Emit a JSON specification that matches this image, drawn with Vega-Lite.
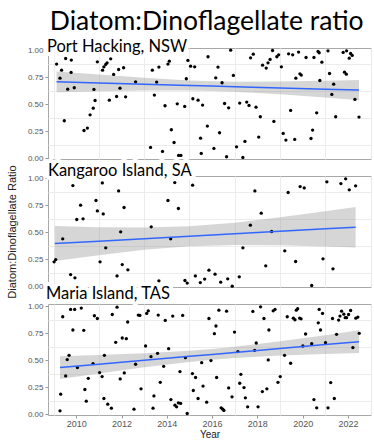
{
"$schema": "https://vega.github.io/schema/vega-lite/v6.json",
"background": "white",
"padding": {"left": 5, "top": 9, "right": 2, "bottom": 0},
"title": {"text": "Diatom:Dinoflagellate ratio", "font": "Lato", "fontSize": 26.5, "fontWeight": "normal", "color": "black", "anchor": "middle", "dx": 18, "offset": 3},
"spacing": 17,
"bounds": "flush",
"datasets": {
"ph": [
{"year":2009.13,"ratio":0.871},{"year":2009.35,"ratio":0.815},{"year":2009.53,"ratio":0.923},{"year":2009.78,"ratio":0.908},{"year":2009.28,"ratio":0.741},{"year":2009.77,"ratio":0.794},{"year":2009.62,"ratio":0.639},{"year":2009.91,"ratio":0.652},{"year":2009.47,"ratio":0.346},{"year":2010.34,"ratio":0.256},{"year":2010.49,"ratio":0.278},{"year":2010.61,"ratio":0.401},{"year":2010.75,"ratio":0.463},{"year":2010.83,"ratio":0.534},{"year":2010.78,"ratio":0.636},{"year":2010.93,"ratio":0.892},{"year":2011.16,"ratio":0.815},{"year":2011.22,"ratio":0.846},{"year":2011.30,"ratio":0.868},{"year":2011.36,"ratio":0.883},{"year":2011.52,"ratio":0.920},{"year":2011.65,"ratio":0.775},{"year":2011.87,"ratio":0.821},{"year":2012.09,"ratio":0.837},{"year":2011.93,"ratio":0.648},{"year":2011.78,"ratio":0.571},{"year":2011.46,"ratio":0.537},{"year":2012.18,"ratio":0.568},{"year":2012.62,"ratio":0.707},{"year":2013.36,"ratio":0.815},{"year":2013.65,"ratio":0.843},{"year":2013.55,"ratio":0.704},{"year":2013.45,"ratio":0.584},{"year":2013.28,"ratio":0.099},{"year":2013.81,"ratio":0.062},{"year":2013.92,"ratio":0.485},{"year":2014.05,"ratio":0.871},{"year":2014.11,"ratio":0.898},{"year":2014.20,"ratio":0.263},{"year":2014.32,"ratio":0.145},{"year":2014.46,"ratio":0.503},{"year":2014.52,"ratio":0.025},{"year":2014.62,"ratio":0.025},{"year":2014.79,"ratio":0.479},{"year":2014.86,"ratio":0.735},{"year":2014.93,"ratio":0.905},{"year":2015.05,"ratio":0.852},{"year":2015.23,"ratio":0.846},{"year":2015.15,"ratio":0.550},{"year":2015.38,"ratio":0.537},{"year":2015.58,"ratio":0.491},{"year":2015.49,"ratio":0.185},{"year":2015.52,"ratio":0.044},{"year":2015.79,"ratio":0.297},{"year":2015.82,"ratio":0.939},
{"year":2016.26,"ratio":0.843},{"year":2016.16,"ratio":0.744},{"year":2016.44,"ratio":0.698},{"year":2016.82,"ratio":1.0},{"year":2016.94,"ratio":0.766},{"year":2016.55,"ratio":0.506},{"year":2016.73,"ratio":0.466},{"year":2016.33,"ratio":0.235},{"year":2016.08,"ratio":0.090},{"year":2016.64,"ratio":0.013},{"year":2017.08,"ratio":0.105},{"year":2017.36,"ratio":0.006},{"year":2017.45,"ratio":0.155},{"year":2017.22,"ratio":0.510},{"year":2017.53,"ratio":0.519},{"year":2017.63,"ratio":0.488},{"year":2017.94,"ratio":0.472},{"year":2018.13,"ratio":0.383},{"year":2018.06,"ratio":0.195},{"year":2017.70,"ratio":0.929},{"year":2017.82,"ratio":0.963},{"year":2018.23,"ratio":0.861},{"year":2018.39,"ratio":0.834},{"year":2018.47,"ratio":0.883},{"year":2018.56,"ratio":0.914},{"year":2018.67,"ratio":0.997},{"year":2018.86,"ratio":0.939},{"year":2018.94,"ratio":0.957},{"year":2019.06,"ratio":0.846},{"year":2018.73,"ratio":0.340},{"year":2019.14,"ratio":0.229},{"year":2019.26,"ratio":0.167},{"year":2019.65,"ratio":0.173},{"year":2019.47,"ratio":0.442},{"year":2019.38,"ratio":0.966},{"year":2019.56,"ratio":0.957},{"year":2019.82,"ratio":0.982},{"year":2019.70,"ratio":0.741},{"year":2019.88,"ratio":0.781},{"year":2019.94,"ratio":0.769},{"year":2020.15,"ratio":0.932},{"year":2020.50,"ratio":0.932},{"year":2020.68,"ratio":0.988},{"year":2020.73,"ratio":0.976},{"year":2020.85,"ratio":0.889},{"year":2021.12,"ratio":0.994},{"year":2020.76,"ratio":0.719},{"year":2020.62,"ratio":0.420},{"year":2020.44,"ratio":0.260},{"year":2020.37,"ratio":0.182},{"year":2021.19,"ratio":0.784},{"year":2021.37,"ratio":0.685},{"year":2021.29,"ratio":0.590},{"year":2021.46,"ratio":0.383},{"year":2021.79,"ratio":0.979},{"year":2021.94,"ratio":0.994},{"year":2022.06,"ratio":0.926},{"year":2022.12,"ratio":0.969},{"year":2022.19,"ratio":0.951},{"year":2021.85,"ratio":0.796},{"year":2021.93,"ratio":0.778},{"year":2022.31,"ratio":0.544},{"year":2022.49,"ratio":0.380}
],
"ki": [
{"year":2009.02,"ratio":0.225},{"year":2009.09,"ratio":0.246},{"year":2009.40,"ratio":0.438},{"year":2009.85,"ratio":0.931},{"year":2009.75,"ratio":0.107},{"year":2009.94,"ratio":0.077},{"year":2010.02,"ratio":0.617},{"year":2010.19,"ratio":0.750},{"year":2010.30,"ratio":0.623},{"year":2010.87,"ratio":0.793},{"year":2010.93,"ratio":0.697},{"year":2011.05,"ratio":0.225},{"year":2011.15,"ratio":0.956},{"year":2011.19,"ratio":0.669},{"year":2011.30,"ratio":0.355},{"year":2011.87,"ratio":0.882},{"year":2011.80,"ratio":0.095},{"year":2011.96,"ratio":0.503},{"year":2012.03,"ratio":0.200},{"year":2012.11,"ratio":0.728},{"year":2012.28,"ratio":0.151},{"year":2013.31,"ratio":0.549},{"year":2013.65,"ratio":0.049},{"year":2014.05,"ratio":0.793},{"year":2014.17,"ratio":0.438},{"year":2014.35,"ratio":0.959},{"year":2014.51,"ratio":0.719},{"year":2014.80,"ratio":0.052},{"year":2014.90,"ratio":0.028},{"year":2015.14,"ratio":0.935},{"year":2015.26,"ratio":0.095},{"year":2015.48,"ratio":0.033},{"year":2015.67,"ratio":0.065},{"year":2015.86,"ratio":0.148},{"year":2016.13,"ratio":0.111},{"year":2016.38,"ratio":0.037},{"year":2016.69,"ratio":0.068},{"year":2016.89,"ratio":0.0},{"year":2017.20,"ratio":0.086},{"year":2017.36,"ratio":0.355},{"year":2017.69,"ratio":0.565},{"year":2017.89,"ratio":0.882},{"year":2018.17,"ratio":0.676},{"year":2018.37,"ratio":0.188},{"year":2018.63,"ratio":0.506},{"year":2019.21,"ratio":0.327},{"year":2019.36,"ratio":0.867},{"year":2019.69,"ratio":0.228},{"year":2019.89,"ratio":0.922},{"year":2020.07,"ratio":0.910},{"year":2020.40,"ratio":0.006},{"year":2020.90,"ratio":0.253},{"year":2021.07,"ratio":0.966},{"year":2021.34,"ratio":0.160},{"year":2021.69,"ratio":0.950},{"year":2021.90,"ratio":0.994},{"year":2022.06,"ratio":0.892},{"year":2022.34,"ratio":0.929}
],
"mi": [
{"year":2009.28,"ratio":0.031},{"year":2009.31,"ratio":0.185},{"year":2009.40,"ratio":0.902},{"year":2009.53,"ratio":0.354},{"year":2009.60,"ratio":0.505},{"year":2009.68,"ratio":0.545},{"year":2009.75,"ratio":0.970},{"year":2009.93,"ratio":0.970},{"year":2009.85,"ratio":0.779},{"year":2010.05,"ratio":0.431},{"year":2010.22,"ratio":0.982},{"year":2010.33,"ratio":0.776},{"year":2010.38,"ratio":0.228},{"year":2010.44,"ratio":0.120},{"year":2010.53,"ratio":0.332},{"year":2010.74,"ratio":0.468},{"year":2010.80,"ratio":0.911},{"year":2010.93,"ratio":0.886},{"year":2011.03,"ratio":0.385},{"year":2011.14,"ratio":0.348},{"year":2011.22,"ratio":0.145},{"year":2011.24,"ratio":0.545},{"year":2011.39,"ratio":0.092},{"year":2011.55,"ratio":0.055},{"year":2011.59,"ratio":0.923},{"year":2011.74,"ratio":0.665},{"year":2011.80,"ratio":0.991},{"year":2011.94,"ratio":0.326},{"year":2012.03,"ratio":0.705},{"year":2012.12,"ratio":0.382},{"year":2012.21,"ratio":0.699},{"year":2012.27,"ratio":0.853},{"year":2012.55,"ratio":0.046},{"year":2012.62,"ratio":0.462},{"year":2012.74,"ratio":0.917},{"year":2012.81,"ratio":0.914},{"year":2012.86,"ratio":0.234},{"year":2013.06,"ratio":0.631},{"year":2013.11,"ratio":0.933},{"year":2013.18,"ratio":0.957},{"year":2013.30,"ratio":0.532},{"year":2013.43,"ratio":0.169},{"year":2013.39,"ratio":0.055},{"year":2013.59,"ratio":0.563},{"year":2013.62,"ratio":0.917},{"year":2013.71,"ratio":0.295},{"year":2013.86,"ratio":0.443},{"year":2013.93,"ratio":0.868},{"year":2014.08,"ratio":0.606},{"year":2014.18,"ratio":0.135},{"year":2014.26,"ratio":0.908},{"year":2014.36,"ratio":0.083},{"year":2014.43,"ratio":0.068},{"year":2014.51,"ratio":0.105},{"year":2014.61,"ratio":0.099},{"year":2014.58,"ratio":0.394},{"year":2014.70,"ratio":0.914},{"year":2014.82,"ratio":0.523},{"year":2014.90,"ratio":0.006},
{"year":2015.13,"ratio":0.376},{"year":2015.27,"ratio":0.339},{"year":2015.17,"ratio":0.219},{"year":2015.38,"ratio":0.145},{"year":2015.54,"ratio":0.477},{"year":2015.60,"ratio":0.260},
{"year":2015.86,"ratio":0.886},{"year":2015.76,"ratio":0.111},{"year":2015.95,"ratio":0.496},{"year":2016.10,"ratio":0.745},{"year":2016.17,"ratio":0.816},{"year":2016.30,"ratio":0.963},{"year":2016.64,"ratio":0.954},{"year":2016.20,"ratio":0.339},{"year":2016.73,"ratio":0.243},{"year":2016.88,"ratio":0.160},{"year":2016.40,"ratio":0.058},{"year":2016.47,"ratio":0.046},{"year":2016.52,"ratio":0.034},{"year":2016.99,"ratio":0.760},{"year":2017.14,"ratio":0.579},{"year":2017.22,"ratio":0.286},{"year":2017.27,"ratio":0.369},{"year":2017.41,"ratio":0.246},{"year":2017.47,"ratio":0.151},{"year":2017.57,"ratio":0.068},{"year":2017.80,"ratio":0.951},{"year":2017.88,"ratio":0.591},{"year":2017.95,"ratio":0.659},{"year":2018.03,"ratio":0.068},{"year":2018.14,"ratio":0.994},{"year":2018.29,"ratio":0.886},{"year":2018.22,"ratio":0.209},{"year":2018.42,"ratio":0.234},{"year":2018.48,"ratio":0.502},{"year":2018.51,"ratio":0.779},{"year":2018.70,"ratio":0.957},{"year":2018.78,"ratio":0.970},{"year":2018.91,"ratio":0.295},{"year":2019.01,"ratio":0.348},{"year":2019.20,"ratio":0.545},{"year":2019.32,"ratio":0.902},{"year":2019.47,"ratio":0.471},{"year":2019.59,"ratio":0.889},{"year":2019.66,"ratio":0.874},{"year":2019.72,"ratio":0.963},{"year":2019.78,"ratio":0.976},{"year":2019.87,"ratio":0.889},{"year":2019.93,"ratio":0.883},{"year":2020.01,"ratio":0.631},{"year":2020.13,"ratio":0.742},{"year":2020.40,"ratio":0.652},{"year":2020.50,"ratio":0.135},{"year":2020.62,"ratio":0.058},{"year":2020.69,"ratio":0.846},{"year":2020.73,"ratio":0.970},{"year":2020.79,"ratio":0.779},{"year":2020.88,"ratio":0.933},{"year":2021.01,"ratio":0.662},{"year":2021.12,"ratio":0.058},{"year":2021.24,"ratio":0.292},{"year":2021.32,"ratio":0.886},{"year":2021.40,"ratio":0.145},{"year":2021.50,"ratio":0.739},{"year":2021.59,"ratio":0.871},{"year":2021.65,"ratio":0.908},{"year":2021.72,"ratio":0.954},{"year":2021.82,"ratio":0.926},{"year":2021.88,"ratio":0.893},{"year":2021.94,"ratio":0.893},{"year":2022.03,"ratio":0.923},{"year":2022.12,"ratio":0.960},{"year":2022.22,"ratio":0.616},{"year":2022.35,"ratio":0.889},{"year":2022.44,"ratio":0.899},{"year":2022.50,"ratio":0.748}
],
"phfit": [
{"year":2009.13,"fit":0.707,"lo":0.611,"hi":0.803},{"year":2011,"fit":0.696,"lo":0.619,"hi":0.774},{"year":2013,"fit":0.685,"lo":0.626,"hi":0.744},{"year":2015,"fit":0.673,"lo":0.626,"hi":0.720},{"year":2016,"fit":0.667,"lo":0.622,"hi":0.712},{"year":2017,"fit":0.661,"lo":0.614,"hi":0.708},{"year":2019,"fit":0.650,"lo":0.591,"hi":0.709},{"year":2021,"fit":0.638,"lo":0.561,"hi":0.716},{"year":2022.49,"fit":0.630,"lo":0.537,"hi":0.723}
],
"kifit": [
{"year":2009.05,"fit":0.394,"lo":0.232,"hi":0.556},{"year":2011,"fit":0.416,"lo":0.287,"hi":0.545},{"year":2013,"fit":0.439,"lo":0.336,"hi":0.542},{"year":2015,"fit":0.462,"lo":0.369,"hi":0.555},{"year":2017,"fit":0.485,"lo":0.382,"hi":0.588},{"year":2019,"fit":0.508,"lo":0.379,"hi":0.637},{"year":2021,"fit":0.531,"lo":0.368,"hi":0.694},{"year":2022.34,"fit":0.546,"lo":0.358,"hi":0.734}
],
"mifit": [
{"year":2009.28,"fit":0.431,"lo":0.326,"hi":0.536},{"year":2011,"fit":0.462,"lo":0.377,"hi":0.547},{"year":2013,"fit":0.499,"lo":0.435,"hi":0.563},{"year":2015,"fit":0.535,"lo":0.483,"hi":0.587},{"year":2016,"fit":0.553,"lo":0.503,"hi":0.603},{"year":2017,"fit":0.571,"lo":0.519,"hi":0.623},{"year":2019,"fit":0.608,"lo":0.542,"hi":0.674},{"year":2021,"fit":0.644,"lo":0.557,"hi":0.731},{"year":2022.49,"fit":0.671,"lo":0.566,"hi":0.776}
]
},
"vconcat": [
{
"width": 323, "height": 111,
"resolve": {"axis": {"x": "independent", "y": "independent"}},
"layer": [
{"data": {"name": "phfit"}, "mark": {"type": "area", "color": "#999999", "opacity": 0.4},
 "encoding": {
  "x": {"field": "year", "type": "quantitative", "scale": {"domain": [2008.75, 2023.02], "nice": false, "zero": false},
   "axis": {"orient": "top", "values": [2009,2011,2013,2015,2017,2019,2021,2023], "labels": false, "ticks": false, "domain": false, "title": null, "gridColor": "#ececec"}},
  "y": {"field": "lo", "type": "quantitative", "scale": {"domain": [-0.008, 1.02], "nice": false, "zero": false},
   "axis": {"orient": "right", "values": [0.125,0.375,0.625,0.875], "labels": false, "ticks": false, "domain": false, "title": null, "gridColor": "#ececec"}},
  "y2": {"field": "hi"}}},
{"data": {"name": "ph"}, "mark": {"type": "circle", "size": 11, "color": "black", "opacity": 1},
 "encoding": {
  "x": {"field": "year", "type": "quantitative", "axis": {"orient": "bottom", "values": [2010,2012,2014,2016,2018,2020,2022], "labels": false, "ticks": false, "title": null, "gridColor": "#dedede"}},
  "y": {"field": "ratio", "type": "quantitative", "axis": {"orient": "left", "values": [0,0.25,0.5,0.75,1], "format": ".2f", "title": null, "tickSize": 3, "labelPadding": 2, "labelFontSize": 8, "labelOverlap": false, "gridColor": "#dedede"}}
 }},
{"data": {"name": "phfit"}, "mark": {"type": "line", "color": "#3366FF", "strokeWidth": 1.5},
 "encoding": {"x": {"field": "year", "type": "quantitative", "axis": null}, "y": {"field": "fit", "type": "quantitative", "axis": null}}},
{"data": {"values": [{"label": "Port Hacking, NSW"}]}, "mark": {"type": "text", "align": "left", "baseline": "alphabetic", "font": "Lato", "fontSize": 16.5, "fill": "white", "stroke": "white", "strokeWidth": 8, "strokeJoin": "round", "dx": -1, "dy": 4},
 "encoding": {"x": {"datum": 2008.75, "type": "quantitative", "axis": null}, "y": {"datum": 1.02, "type": "quantitative", "axis": null}, "text": {"field": "label"}}},
{"data": {"values": [{"label": "Port Hacking, NSW"}]}, "mark": {"type": "text", "align": "left", "baseline": "alphabetic", "font": "Lato", "fontSize": 16.5, "color": "black", "dx": -1, "dy": 4},
 "encoding": {"x": {"datum": 2008.75, "type": "quantitative", "axis": null}, "y": {"datum": 1.02, "type": "quantitative", "axis": null}, "text": {"field": "label"}}}
]
},
{
"width": 323, "height": 111,
"resolve": {"axis": {"x": "independent", "y": "independent"}},
"layer": [
{"data": {"name": "kifit"}, "mark": {"type": "area", "color": "#999999", "opacity": 0.4},
 "encoding": {
  "x": {"field": "year", "type": "quantitative", "scale": {"domain": [2008.75, 2023.02], "nice": false, "zero": false},
   "axis": {"orient": "top", "values": [2009,2011,2013,2015,2017,2019,2021,2023], "labels": false, "ticks": false, "domain": false, "title": null, "gridColor": "#ececec"}},
  "y": {"field": "lo", "type": "quantitative", "scale": {"domain": [-0.008, 1.02], "nice": false, "zero": false},
   "axis": {"orient": "right", "values": [0.125,0.375,0.625,0.875], "labels": false, "ticks": false, "domain": false, "title": null, "gridColor": "#ececec"}},
  "y2": {"field": "hi"}}},
{"data": {"name": "ki"}, "mark": {"type": "circle", "size": 11, "color": "black", "opacity": 1},
 "encoding": {
  "x": {"field": "year", "type": "quantitative", "axis": {"orient": "bottom", "values": [2010,2012,2014,2016,2018,2020,2022], "labels": false, "ticks": false, "title": null, "gridColor": "#dedede"}},
  "y": {"field": "ratio", "type": "quantitative", "axis": {"orient": "left", "values": [0,0.25,0.5,0.75,1], "format": ".2f", "title": "Diatom:Dinoflagellate Ratio", "titleFontSize": 11, "titlePadding": 10, "tickSize": 3, "labelPadding": 2, "labelFontSize": 8, "labelOverlap": false, "gridColor": "#dedede"}}
 }},
{"data": {"name": "kifit"}, "mark": {"type": "line", "color": "#3366FF", "strokeWidth": 1.5},
 "encoding": {"x": {"field": "year", "type": "quantitative", "axis": null}, "y": {"field": "fit", "type": "quantitative", "axis": null}}},
{"data": {"values": [{"label": "Kangaroo Island, SA"}]}, "mark": {"type": "text", "align": "left", "baseline": "alphabetic", "font": "Lato", "fontSize": 16.5, "fill": "white", "stroke": "white", "strokeWidth": 8, "strokeJoin": "round", "dx": 0, "dy": 0},
 "encoding": {"x": {"datum": 2008.75, "type": "quantitative", "axis": null}, "y": {"datum": 1.02, "type": "quantitative", "axis": null}, "text": {"field": "label"}}},
{"data": {"values": [{"label": "Kangaroo Island, SA"}]}, "mark": {"type": "text", "align": "left", "baseline": "alphabetic", "font": "Lato", "fontSize": 16.5, "color": "black", "dx": 0, "dy": 0},
 "encoding": {"x": {"datum": 2008.75, "type": "quantitative", "axis": null}, "y": {"datum": 1.02, "type": "quantitative", "axis": null}, "text": {"field": "label"}}}
]
},
{
"width": 323, "height": 111,
"resolve": {"axis": {"x": "independent", "y": "independent"}},
"layer": [
{"data": {"name": "mifit"}, "mark": {"type": "area", "color": "#999999", "opacity": 0.4},
 "encoding": {
  "x": {"field": "year", "type": "quantitative", "scale": {"domain": [2008.75, 2023.02], "nice": false, "zero": false},
   "axis": {"orient": "top", "values": [2009,2011,2013,2015,2017,2019,2021,2023], "labels": false, "ticks": false, "domain": false, "title": null, "gridColor": "#ececec"}},
  "y": {"field": "lo", "type": "quantitative", "scale": {"domain": [-0.008, 1.02], "nice": false, "zero": false},
   "axis": {"orient": "right", "values": [0.125,0.375,0.625,0.875], "labels": false, "ticks": false, "domain": false, "title": null, "gridColor": "#ececec"}},
  "y2": {"field": "hi"}}},
{"data": {"name": "mi"}, "mark": {"type": "circle", "size": 11, "color": "black", "opacity": 1},
 "encoding": {
  "x": {"field": "year", "type": "quantitative", "axis": {"orient": "bottom", "values": [2010,2012,2014,2016,2018,2020,2022], "format": "d", "title": "Year", "titleFontSize": 10, "titlePadding": 1, "labelFontSize": 9, "labelPadding": 1, "tickSize": 3, "labelOverlap": false, "gridColor": "#dedede"}},
  "y": {"field": "ratio", "type": "quantitative", "axis": {"orient": "left", "values": [0,0.25,0.5,0.75,1], "format": ".2f", "title": null, "tickSize": 3, "labelPadding": 2, "labelFontSize": 8, "labelOverlap": false, "gridColor": "#dedede"}}
 }},
{"data": {"name": "mifit"}, "mark": {"type": "line", "color": "#3366FF", "strokeWidth": 1.5},
 "encoding": {"x": {"field": "year", "type": "quantitative", "axis": null}, "y": {"field": "fit", "type": "quantitative", "axis": null}}},
{"data": {"values": [{"label": "Maria Island, TAS"}]}, "mark": {"type": "text", "align": "left", "baseline": "alphabetic", "font": "Lato", "fontSize": 16.5, "fill": "white", "stroke": "white", "strokeWidth": 8, "strokeJoin": "round", "dx": -2, "dy": -5},
 "encoding": {"x": {"datum": 2008.75, "type": "quantitative", "axis": null}, "y": {"datum": 1.02, "type": "quantitative", "axis": null}, "text": {"field": "label"}}},
{"data": {"values": [{"label": "Maria Island, TAS"}]}, "mark": {"type": "text", "align": "left", "baseline": "alphabetic", "font": "Lato", "fontSize": 16.5, "color": "black", "dx": -2, "dy": -5},
 "encoding": {"x": {"datum": 2008.75, "type": "quantitative", "axis": null}, "y": {"datum": 1.02, "type": "quantitative", "axis": null}, "text": {"field": "label"}}}
]
}
],
"config": {
 "view": {"stroke": "#a8a8a8", "strokeWidth": 1},
 "axis": {"labelFont": "Liberation Sans", "labelColor": "#555555", "tickColor": "#999999", "domain": false, "titleFont": "Liberation Sans", "titleFontWeight": "normal", "titleColor": "#222222"}
}
}
